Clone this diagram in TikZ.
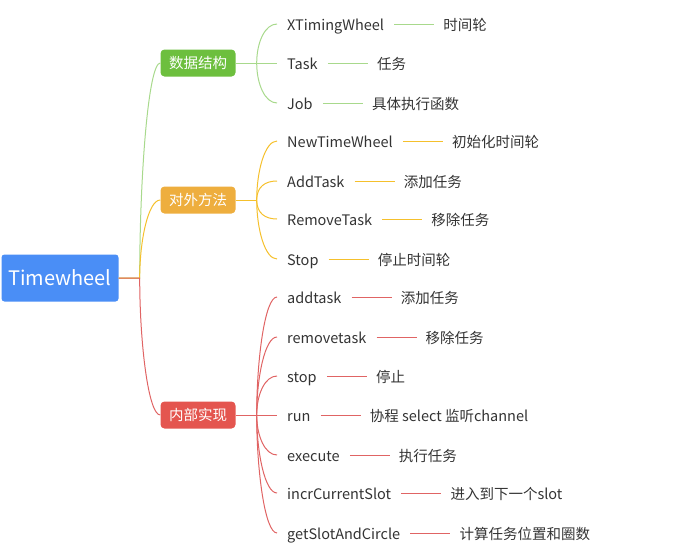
\documentclass[tikz,border=0pt]{standalone}
\usepackage{fontspec}
\setmainfont{Noto Sans CJK SC}
\usepackage{xcolor}
\usepackage{tikz}
\usetikzlibrary{positioning}
\definecolor{wblue}{HTML}{4A8EF6}
\definecolor{wgreen}{HTML}{6DBF3E}
\definecolor{wgreenln}{HTML}{A8D98C}
\definecolor{worange}{HTML}{EEAE3E}
\definecolor{worangeln}{HTML}{F5C02C}
\definecolor{wred}{HTML}{E4554F}
\definecolor{wredln}{HTML}{E06464}
\definecolor{wtext}{HTML}{333333}

\begin{document}
\begin{tikzpicture}[
  x=1pt,y=-1pt,
  node distance=40pt,
  rt/.style={fill=wblue,text=white,rounded corners=3pt,minimum width=117pt,minimum height=47pt,font=\fontsize{20}{22}\selectfont},
  ct/.style={text=white,rounded corners=4pt,minimum width=75pt,minimum height=27pt,font=\fontsize{14.5}{16}\selectfont},
  lf/.style={anchor=west,inner xsep=10pt,text=wtext,font=\fontsize{14.5}{16}\selectfont,text height=13pt,text depth=0pt},
  dc/.style={inner xsep=9pt,text=wtext,font=\fontsize{14.5}{16}\selectfont,text height=13pt,text depth=0pt},
  gl/.style={draw=wgreenln,line width=1pt},
  ol/.style={draw=worangeln,line width=1pt},
  rl/.style={draw=wredln,line width=1pt},
  up/.style={out=90,in=180,out looseness=1.2,in distance=12pt},
  dn/.style={out=-90,in=180,out looseness=1.2,in distance=12pt}]
\useasboundingbox (0,0) rectangle (675,552);
% root and categories
\node[rt] (tw) at (60,278) {Timewheel};
\node[ct,fill=wgreen] (ds) at (198,63) {数据结构};
\node[ct,fill=worange] (dw) at (198,200) {对外方法};
\node[ct,fill=wred] (nb) at (198,415) {内部实现};
\coordinate[right=21pt of tw] (twf);
\coordinate[right=21pt of ds] (dsf);
\coordinate[right=21pt of dw] (dwf);
\coordinate[right=21pt of nb] (nbf);
% leaves
\node[lf] (xtw) at (277,24) {XTimingWheel};
\node[dc,right=of xtw] (xtwd) {时间轮};
\node[lf] (tsk) at (277,63) {Task};
\node[dc,right=of tsk] (tskd) {任务};
\node[lf] (job) at (277,103) {Job};
\node[dc,right=of job] (jobd) {具体执行函数};
\node[lf] (ntw) at (277,141) {NewTimeWheel};
\node[dc,right=of ntw] (ntwd) {初始化时间轮};
\node[lf] (adt) at (277,181) {AddTask};
\node[dc,right=of adt] (adtd) {添加任务};
\node[lf] (rmt) at (277,219) {RemoveTask};
\node[dc,right=of rmt] (rmtd) {移除任务};
\node[lf] (stp) at (277,259) {Stop};
\node[dc,right=of stp] (stpd) {停止时间轮};
\node[lf] (iad) at (277,297) {addtask};
\node[dc,right=of iad] (iadd) {添加任务};
\node[lf] (irm) at (277,337) {removetask};
\node[dc,right=of irm] (irmd) {移除任务};
\node[lf] (ist) at (277,376) {stop};
\node[dc,right=of ist] (istd) {停止};
\node[lf] (run) at (277,415) {run};
\node[dc,right=of run] (rund) {协程 select 监听channel};
\node[lf] (exe) at (277,455) {execute};
\node[dc,right=of exe] (exed) {执行任务};
\node[lf] (ics) at (277,493) {incrCurrentSlot};
\node[dc,right=of ics] (icsd) {进入到下一个slot};
\node[lf] (gsc) at (277,533) {getSlotAndCircle};
\node[dc,right=of gsc] (gscd) {计算任务位置和圈数};
% root branches
\draw[gl] (tw.east) -- (twf) to[up] (ds.west);
\draw[ol] (tw.east) -- (twf) to[up] (dw.west);
\draw[rl] (tw.east) -- (twf) to[dn] (nb.west);
% green
\draw[gl] (ds) -- (dsf);
\draw[gl] (dsf) to[up] (xtw.west); \draw[gl] (dsf) -- (tsk.west); \draw[gl] (dsf) to[dn] (job.west);
\draw[gl] (xtw)--(xtwd); \draw[gl] (tsk)--(tskd); \draw[gl] (job)--(jobd);
% orange
\draw[ol] (dw) -- (dwf);
\draw[ol] (dwf) to[up] (ntw.west); \draw[ol] (dwf) to[up] (adt.west);
\draw[ol] (dwf) to[dn] (rmt.west); \draw[ol] (dwf) to[dn] (stp.west);
\draw[ol] (ntw)--(ntwd); \draw[ol] (adt)--(adtd); \draw[ol] (rmt)--(rmtd); \draw[ol] (stp)--(stpd);
% red
\draw[rl] (nb) -- (nbf);
\draw[rl] (nbf) to[up] (iad.west); \draw[rl] (nbf) to[up] (irm.west); \draw[rl] (nbf) to[up] (ist.west);
\draw[rl] (nbf) -- (run.west);
\draw[rl] (nbf) to[dn] (exe.west); \draw[rl] (nbf) to[dn] (ics.west); \draw[rl] (nbf) to[dn] (gsc.west);
\draw[rl] (iad)--(iadd); \draw[rl] (irm)--(irmd); \draw[rl] (ist)--(istd); \draw[rl] (run)--(rund);
\draw[rl] (exe)--(exed); \draw[rl] (ics)--(icsd); \draw[rl] (gsc)--(gscd);
\end{tikzpicture}
\end{document}
